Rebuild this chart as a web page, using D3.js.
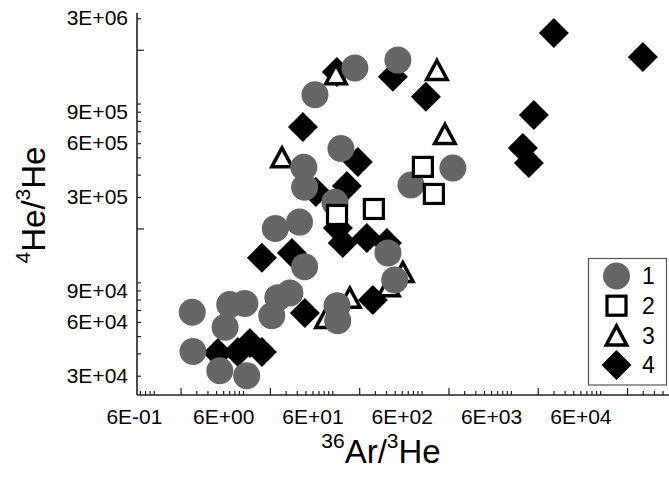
<!DOCTYPE html>
<html>
<head>
<meta charset="utf-8">
<script src="https://cdn.jsdelivr.net/npm/d3@7"></script>
<style>
  html, body { margin: 0; padding: 0; background: #fff; }
  svg { display: block; font-family: "Liberation Sans", Arial, sans-serif; }
  .ticklabel text { font-size: 21px; fill: #000; font-family: "Liberation Sans", Arial, sans-serif; }
</style>
</head>
<body>
<svg id="chart" width="669" height="477"></svg>
<script>
// 36Ar/3He versus 4He/3He, four sample groups, log-log axes

const seriesNames = ["1", "2", "3", "4"];

// group 1 (filled grey circles)
const g1Ar = [2.7, 2.75, 5.5, 11, 7.1, 10.5, 6.3, 33.5, 24.6, 21, 23, 43, 49, 48, 49, 107, 113, 115, 125, 64, 179, 543, 760, 2240, 420, 500];
const g1He = [6.8e4, 4.1e4, 3.2e4, 3.0e4, 7.5e4, 7.6e4, 5.6e4, 8.7e4, 8.2e4, 6.5e4, 2.0e5, 2.17e5, 1.22e5, 4.4e5, 3.4e5, 2.8e5, 7.4e4, 6.1e4, 5.6e5, 1.12e6, 1.58e6, 1.75e6, 3.5e5, 4.36e5, 1.46e5, 1.03e5];

// group 2 (open squares)
const g2Ar = [113, 292, 1034, 1373];
const g2He = [2.38e5, 2.57e5, 4.42e5, 3.12e5];

// group 3 (open triangles)
const g3Ar = [110, 27.3, 1484, 1823, 617, 430, 157, 85];
const g3He = [1.46e6, 5.0e5, 1.54e6, 6.76e5, 1.14e5, 9.5e4, 8.2e4, 6.3e4];

// group 4 (filled black diamonds)
const g4Ar = [30300, 300700, 18090, 13620, 15900, 477, 1117, 46.9, 193.5, 145.7, 65.5, 131, 244, 409, 16.3, 35.3, 49.3, 285, 5.23, 8.77, 11.95, 16.3, 112.6, 115.5];
const g4He = [2.48e6, 1.82e6, 8.63e5, 5.64e5, 4.65e5, 1.41e6, 1.09e6, 7.39e5, 4.71e5, 3.46e5, 3.2e5, 1.66e5, 1.77e5, 1.66e5, 1.37e5, 1.46e5, 6.73e4, 7.96e4, 4.02e4, 4.07e4, 4.57e4, 4.07e4, 1.5e6, 2.01e5];

// axis limits and labelled ticks
const xLimits = [0.65, 5.9e5];
const yLimits = [2.34e4, 3.21e6];
const xTickLabels = [0.6, 6, 60, 600, 6000, 60000];
const yTickLabels = [3e4, 6e4, 9e4, 3e5, 6e5, 9e5, 3e6];

const svg = d3.select("#chart");
const plotLeft = 137, plotRight = 669, plotTop = 13, plotBottom = 395;

const x = d3.scaleLog().domain(xLimits).range([plotLeft, plotRight]);
const y = d3.scaleLog().domain(yLimits).range([plotBottom, plotTop]);

const fmt = v => v.toExponential(0).toUpperCase().replace(/E([+-])(\d)$/, "E$10$2");

function logTicks(lo, hi, mult) {
  const out = [];
  for (let e = Math.floor(Math.log10(lo)) - 1; e <= Math.ceil(Math.log10(hi)); e++) {
    for (const k of mult) {
      const v = k * Math.pow(10, e);
      if (v >= lo && v <= hi) out.push(v);
    }
  }
  return out;
}
const minorK = [1, 3, 4, 5, 6, 7, 8, 9];
const majorK = [2];

const axisColor = "#222";

// x axis
const gx = svg.append("g").attr("transform", `translate(0,${plotBottom})`)
  .call(d3.axisBottom(x).tickValues(logTicks(...xLimits, minorK)).tickSize(-4).tickFormat(""));
gx.select(".domain").remove();
const gx2 = svg.append("g").attr("transform", `translate(0,${plotBottom})`)
  .call(d3.axisBottom(x).tickValues(logTicks(...xLimits, majorK)).tickSize(-7).tickFormat(""));
gx2.select(".domain").remove();
const gxl = svg.append("g").attr("class", "ticklabel").attr("transform", `translate(0,${plotBottom})`)
  .call(d3.axisBottom(x).tickValues(xTickLabels).tickSize(0).tickPadding(0).tickFormat(fmt));
gxl.attr("font-size", null).attr("font-family", null);
gxl.select(".domain").remove();
gxl.selectAll(".tick line").remove();
gxl.selectAll("text").attr("y", 28.5).attr("dy", 0);

// y axis
const gy = svg.append("g").attr("transform", `translate(${plotLeft},0)`)
  .call(d3.axisLeft(y).tickValues(logTicks(...yLimits, minorK)).tickSize(-4).tickFormat(""));
gy.select(".domain").remove();
const gy2 = svg.append("g").attr("transform", `translate(${plotLeft},0)`)
  .call(d3.axisLeft(y).tickValues(logTicks(...yLimits, majorK)).tickSize(-7).tickFormat(""));
gy2.select(".domain").remove();
const gyl = svg.append("g").attr("class", "ticklabel").attr("transform", `translate(${plotLeft},0)`)
  .call(d3.axisLeft(y).tickValues(yTickLabels).tickSize(0).tickPadding(9).tickFormat(fmt));
gyl.attr("font-size", null).attr("font-family", null);
gyl.select(".domain").remove();
gyl.selectAll(".tick line").remove();

svg.selectAll(".tick line").attr("stroke", axisColor).attr("stroke-width", 1.2);

// axis lines
svg.append("line").attr("x1", plotLeft).attr("x2", plotLeft).attr("y1", plotTop).attr("y2", plotBottom)
  .attr("stroke", axisColor).attr("stroke-width", 1.6);
svg.append("line").attr("x1", plotLeft).attr("x2", plotRight).attr("y1", plotBottom).attr("y2", plotBottom)
  .attr("stroke", axisColor).attr("stroke-width", 1.6);

// axis titles
const xt = svg.append("text").attr("x", 381).attr("y", 463).attr("text-anchor", "middle")
  .style("font-size", "33px").attr("fill", "#000");
xt.append("tspan").style("font-size", "21px").attr("dy", -15).text("36");
xt.append("tspan").attr("dy", 15).text("Ar/");
xt.append("tspan").style("font-size", "21px").attr("dy", -15).text("3");
xt.append("tspan").attr("dy", 15).text("He");

const yt = svg.append("text").attr("transform", "translate(45,205) rotate(-90)")
  .attr("text-anchor", "middle").style("font-size", "33px").attr("fill", "#000");
yt.append("tspan").style("font-size", "21px").attr("dy", -15).text("4");
yt.append("tspan").attr("dy", 15).text("He/");
yt.append("tspan").style("font-size", "21px").attr("dy", -15).text("3");
yt.append("tspan").attr("dy", 15).text("He");

// marker shapes
const markers = {
  circle: sel => sel.append("circle").attr("r", 13.5).attr("fill", "#666"),
  square: sel => sel.append("rect").attr("x", -9.5).attr("y", -9.5).attr("width", 19).attr("height", 19)
    .attr("fill", "#fff").attr("stroke", "#000").attr("stroke-width", 3.2),
  triangle: sel => sel.append("path").attr("d", "M0,-9.5L10.2,9.5L-10.2,9.5Z")
    .attr("fill", "#fff").attr("stroke", "#000").attr("stroke-width", 3.5),
  diamond: sel => sel.append("path").attr("d", "M0,-15L15,0L0,15L-15,0Z").attr("fill", "#000")
};

function plot(ar, he, kind) {
  const pts = ar.map((a, i) => ({ a, h: he[i] }));
  const g = svg.append("g");
  g.selectAll("g").data(pts).join("g")
    .attr("transform", d => `translate(${x(d.a)},${y(d.h)})`)
    .each(function () { markers[kind](d3.select(this)); });
}

// layering: diamonds at the back, then triangles, circles, squares
plot(g4Ar, g4He, "diamond");
plot(g3Ar, g3He, "triangle");
plot(g1Ar, g1He, "circle");
plot(g2Ar, g2He, "square");

// legend
const legend = svg.append("g");
legend.append("rect").attr("x", 588.5).attr("y", 258.5).attr("width", 78).attr("height", 126.5)
  .attr("fill", "#fff").attr("stroke", "#555").attr("stroke-width", 1.2);
const kinds = ["circle", "square", "triangle", "diamond"];
seriesNames.forEach((name, i) => {
  const cy = 276 + i * 29.7;
  const item = legend.append("g").attr("transform", `translate(616.5,${cy})`);
  markers[kinds[i]](item);
  legend.append("text").attr("x", 642).attr("y", cy).attr("dy", "0.36em")
    .style("font-size", "23px").attr("fill", "#000").text(name);
});
</script>
</body>
</html>
